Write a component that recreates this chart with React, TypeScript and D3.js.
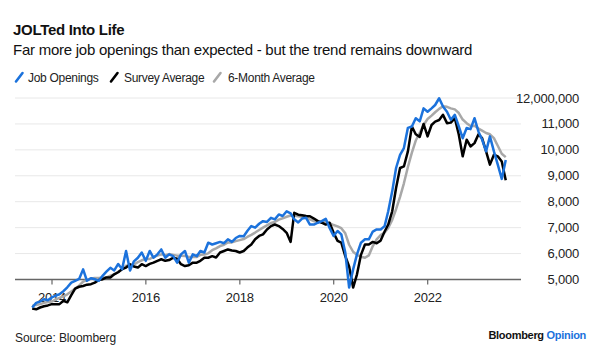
import React from "react";
import * as d3 from "d3";

// Monthly series, Jul 2013 .. Aug 2023 (millions)
const startYear = 2013;
const startMonth = 6; // July (0-based)

const jobOpenings: number[] = [
  3.92, 4.10, 4.15, 4.24, 4.20, 4.31,
  4.38, 4.43, 4.55, 4.70, 4.88, 4.95, 5.02, 5.39, 4.95, 5.05, 5.01, 4.95,
  5.15, 5.30, 5.45, 5.35, 5.60, 5.40, 6.10, 5.35, 5.70, 5.84, 6.04, 5.72,
  6.10, 5.84, 5.97, 6.16, 5.84, 5.97, 5.90, 5.65, 5.97, 6.10, 5.65, 5.97,
  5.90, 6.10, 6.04, 6.42, 6.35, 6.40, 6.45, 6.40, 6.55, 6.45, 6.60, 6.68,
  6.67, 6.87, 7.06, 7.00, 7.15, 7.25, 7.22, 7.38, 7.32, 7.51, 7.45, 7.63,
  7.55, 7.32, 7.20, 7.35, 7.38, 7.12, 7.12, 7.19, 7.25, 7.34, 6.99, 6.68,
  6.87, 6.74, 6.04, 4.69, 5.39, 5.97, 6.42, 6.55, 6.55, 6.85, 6.93, 6.93,
  7.06, 7.63, 8.40, 9.30, 9.81, 10.07, 10.85, 10.90, 11.22, 11.10, 11.60, 11.47,
  11.60, 11.73, 11.99, 11.67, 11.47, 11.16, 11.35, 10.90, 10.45, 10.84, 10.80, 11.22,
  10.70, 10.40, 9.94, 10.52, 9.94, 9.43, 8.88, 9.61,
];

const surveyAverage: number[] = [
  3.88, 3.85, 3.92, 3.97, 4.00, 4.05,
  4.05, 4.05, 4.18, 4.12, 4.40, 4.65, 4.72, 4.75, 4.80, 4.82, 4.88, 4.98,
  5.01, 5.08, 5.08, 5.20, 5.28, 5.40, 5.46, 5.59, 5.50, 5.46, 5.59, 5.52,
  5.60, 5.65, 5.72, 5.78, 5.72, 5.75, 5.84, 5.80, 5.59, 5.52, 5.55, 5.65,
  5.65, 5.72, 5.84, 5.84, 5.90, 5.85, 6.04, 6.10, 6.16, 6.12, 6.10, 6.04,
  6.10, 6.23, 6.35, 6.55, 6.68, 6.74, 6.93, 7.06, 7.12, 7.06, 6.95, 6.80,
  6.45, 7.57, 7.50, 7.48, 7.45, 7.44, 7.35, 7.25, 7.19, 7.12, 7.19, 6.80,
  6.49, 6.42, 5.90, 5.50, 4.69, 5.20, 5.95, 6.35, 6.35, 6.45, 6.40, 6.50,
  6.85, 7.12, 7.63, 8.53, 9.30, 9.36, 9.94, 10.90, 10.60, 10.50, 11.00, 10.52,
  10.96, 11.09, 11.15, 11.35, 11.03, 11.05, 11.22, 10.58, 9.75, 10.39, 10.13, 10.26,
  10.60, 10.45, 9.94, 9.43, 9.81, 9.75, 9.55, 8.83,
];

const sixMonthAverage: number[] = [
  3.98, 4.02, 4.05, 4.10, 4.13, 4.15,
  4.23, 4.29, 4.35, 4.43, 4.54, 4.65, 4.76, 4.92, 4.98, 5.04, 5.06, 5.06,
  5.08, 5.07, 5.15, 5.20, 5.30, 5.38, 5.53, 5.54, 5.58, 5.67, 5.74, 5.79,
  5.79, 5.87, 5.92, 5.97, 5.94, 5.98, 5.95, 5.92, 5.92, 5.91, 5.87, 5.87,
  5.87, 5.95, 5.96, 6.01, 6.13, 6.20, 6.29, 6.34, 6.43, 6.43, 6.48, 6.52,
  6.56, 6.64, 6.72, 6.81, 6.91, 7.00, 7.09, 7.18, 7.22, 7.31, 7.36, 7.42,
  7.47, 7.46, 7.44, 7.42, 7.41, 7.32, 7.25, 7.23, 7.24, 7.23, 7.17, 7.10,
  7.05, 6.98, 6.78, 6.34, 6.07, 5.95, 5.88, 5.84, 5.93, 6.29, 6.55, 6.71,
  6.81, 6.99, 7.30, 7.71, 8.19, 8.71, 9.34, 9.89, 10.36, 10.66, 10.96, 11.19,
  11.32, 11.45, 11.58, 11.68, 11.66, 11.60, 11.56, 11.42, 11.17, 11.03, 10.92, 10.93,
  10.82, 10.74, 10.65, 10.60, 10.45, 10.16, 9.85, 9.72,
];

const yTicks: number[] = [5, 6, 7, 8, 9, 10, 11, 12];
const yTickLabels: string[] = ["5,000", "6,000", "7,000", "8,000", "9,000", "10,000", "11,000", "12,000,000"];
const xTickYears: number[] = [2014, 2016, 2018, 2020, 2022];

const seriesNames = ["Job Openings", "Survey Average", "6-Month Average"];
const colors = { blue: "#1b72dc", black: "#000000", gray: "#a8a8a8" };

const FONT = "'Liberation Sans', Arial, Helvetica, sans-serif";

export default function App() {
  const W = 600, H = 358;
  const x = d3.scaleTime()
    .domain([new Date(2014, 0, 1), new Date(2022, 0, 1)])
    .range([52, 427.7]);
  const y = d3.scaleLinear().domain([5, 12]).range([279.5, 98]);

  const dateOf = (i: number) => new Date(startYear, startMonth + i + 1, 0);
  const line = d3.line<number>()
    .x((_, i) => x(dateOf(i)))
    .y((v) => y(v))
    .curve(d3.curveLinear);

  const plotLeft = 15, plotRight = 521;

  const legendItems = [
    { name: seriesNames[0], color: colors.blue, ix: 15, tx: 28 },
    { name: seriesNames[1], color: colors.black, ix: 110, tx: 124 },
    { name: seriesNames[2], color: colors.gray, ix: 213, tx: 228 },
  ];

  return (
    <div style={{ position: "fixed", left: 0, top: 0 }}>
      <svg width={W} height={H} style={{ display: "block", background: "#fff" }} fontFamily={FONT}>
        <rect width={W} height={H} fill="#fff" />
        <text x={13} y={35} fontSize={15} fontWeight={700} letterSpacing={-0.3} fill="#111">JOLTed Into Life</text>
        <text x={13} y={55} fontSize={15} letterSpacing={-0.25} fill="#111">
          Far more job openings than expected - but the trend remains downward
        </text>

        {legendItems.map((d) => (
          <g key={d.name}>
            <line x1={d.ix + 1} y1={81.5} x2={d.ix + 7.5} y2={73} stroke={d.color} strokeWidth={2.6} strokeLinecap="round" />
            <text x={d.tx} y={82} fontSize={12} letterSpacing={-0.3} fill="#222">{d.name}</text>
          </g>
        ))}

        {yTicks.filter((t) => t !== 5).map((t) => (
          <line key={t} x1={plotLeft} x2={plotRight} y1={y(t)} y2={y(t)} stroke="#e8e8e8" strokeWidth={1} />
        ))}
        {yTicks.map((t, i) => (
          <text key={"yl" + t} x={579} y={y(t) + 4.5} fontSize={13} textAnchor="end" fill="#222" letterSpacing={-0.2}>
            {yTickLabels[i]}
          </text>
        ))}

        <line x1={plotLeft} x2={plotRight} y1={y(5)} y2={y(5)} stroke="#666" strokeWidth={1.4} />
        {xTickYears.map((yr) => {
          const px = x(new Date(yr, 0, 1));
          return (
            <g key={yr}>
              <line x1={px} x2={px} y1={y(5)} y2={y(5) + 5} stroke="#666" strokeWidth={1.2} />
              <text x={px} y={302} fontSize={13} textAnchor="middle" fill="#222" letterSpacing={-0.2}>{yr}</text>
            </g>
          );
        })}

        <path d={line(sixMonthAverage) || ""} fill="none" stroke={colors.gray} strokeWidth={2.5} strokeLinejoin="round" />
        <path d={line(surveyAverage) || ""} fill="none" stroke={colors.black} strokeWidth={2.5} strokeLinejoin="round" />
        <path d={line(jobOpenings) || ""} fill="none" stroke={colors.blue} strokeWidth={2.5} strokeLinejoin="round" />

        <text x={15} y={342} fontSize={12} fill="#222" letterSpacing={-0.1}>Source: Bloomberg</text>
        <text x={586} y={339} fontSize={11} fontWeight={700} textAnchor="end" letterSpacing={-0.3}>
          <tspan fill="#111">Bloomberg </tspan>
          <tspan fill="#1b72dc">Opinion</tspan>
        </text>
      </svg>
    </div>
  );
}
